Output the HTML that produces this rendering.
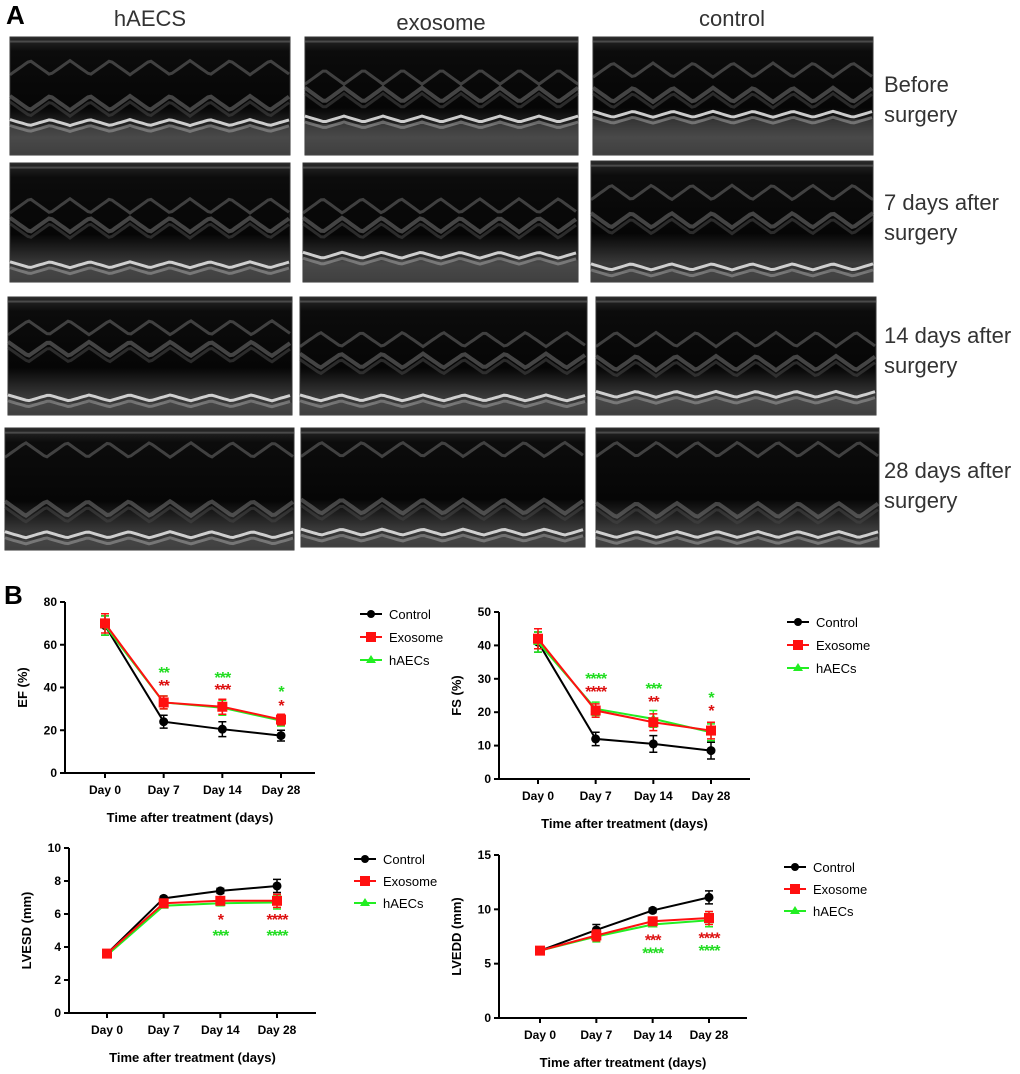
<!DOCTYPE html>
<html><head><meta charset="utf-8"><style>
html,body{margin:0;padding:0;background:#fff}
svg{display:block}
text{font-family:"Liberation Sans",Arial,sans-serif}
</style></head><body>
<svg id="fig" width="1020" height="1074" viewBox="0 0 1020 1074" xmlns="http://www.w3.org/2000/svg">
<defs>
<linearGradient id="eg" x1="0" y1="0" x2="0" y2="1">
<stop offset="0" stop-color="#2a2a2a"/><stop offset="0.12" stop-color="#0c0c0c"/><stop offset="0.6" stop-color="#060606"/><stop offset="0.85" stop-color="#3a3a3a"/><stop offset="1" stop-color="#2a2a2a"/>
</linearGradient>
</defs>
<text x="6" y="24" font-size="26" font-weight="bold">A</text>
<text x="150" y="26" font-size="22" fill="#333" text-anchor="middle">hAECS</text>
<text x="441" y="30" font-size="22" fill="#333" text-anchor="middle">exosome</text>
<text x="732" y="26" font-size="22" fill="#333" text-anchor="middle">control</text>
<g font-size="22" fill="#333">
<text x="884" y="92">Before</text><text x="884" y="122">surgery</text>
<text x="884" y="210">7 days after</text><text x="884" y="240">surgery</text>
<text x="884" y="343">14 days after</text><text x="884" y="373">surgery</text>
<text x="884" y="478">28 days after</text><text x="884" y="508">surgery</text>
</g>
<g id="echos"></g>
<text x="4" y="604" font-size="26" font-weight="bold">B</text>
<g id="charts"></g>
</svg>
<script>
// ===== chart data =====
const days = ["Day 0","Day 7","Day 14","Day 28"];
const efControl = [69, 24, 20.5, 17.5];
const efExosome = [70, 33, 31, 25];
const efHaecs = [69, 33, 30.5, 24.5];
const efErr = [4.5, 3, 3.5, 2.5];
const efTicks = [0, 20, 40, 60, 80];
const fsControl = [41, 12, 10.5, 8.5];
const fsExosome = [42, 20.5, 17, 14.5];
const fsHaecs = [41, 21, 18, 14];
const fsErr = [3, 2, 2.5, 2.5];
const fsTicks = [0, 10, 20, 30, 40, 50];
const lvesdControl = [3.6, 6.95, 7.4, 7.7];
const lvesdExosome = [3.6, 6.65, 6.8, 6.8];
const lvesdHaecs = [3.5, 6.5, 6.65, 6.7];
const lvesdErr = [0.15, 0.1, 0.15, 0.4];
const lvesdTicks = [0, 2, 4, 6, 8, 10];
const lveddControl = [6.2, 8.1, 9.9, 11.1];
const lveddExosome = [6.2, 7.6, 8.9, 9.2];
const lveddHaecs = [6.2, 7.5, 8.6, 9.0];
const lveddErr = [0.2, 0.5, 0.2, 0.6];
const lveddTicks = [0, 5, 10, 15];
// significance stars: [dayIndex, value, text]
const efStarsRed = [[1, 41.6, "**"], [2, 39.8, "***"], [3, 32.3, "*"]];
const efStarsGreen = [[1, 47.7, "**"], [2, 45.4, "***"], [3, 38.8, "*"]];
const fsStarsRed = [[1, 26.6, "****"], [2, 23.6, "**"], [3, 21, "*"]];
const fsStarsGreen = [[1, 30.5, "****"], [2, 27.5, "***"], [3, 24.8, "*"]];
const lvesdStarsRed = [[2, 5.75, "*"], [3, 5.75, "****"]];
const lvesdStarsGreen = [[2, 4.8, "***"], [3, 4.8, "****"]];
const lveddStarsRed = [[2, 7.3, "***"], [3, 7.5, "****"]];
const lveddStarsGreen = [[2, 6.1, "****"], [3, 6.35, "****"]];

const NS = "http://www.w3.org/2000/svg";
function mk(tag, attrs, parent){const e=document.createElementNS(NS,tag);for(const k in attrs)e.setAttribute(k,attrs[k]);parent.appendChild(e);return e;}

// ===== echo panels (decorative imagery) =====
const panels = [
 [10,37,280,118,0.2,0.62,0.75],[305,37,273,118,0.28,0.55,0.72],[593,37,280,118,0.22,0.55,0.68],
 [10,163,280,119,0.3,0.58,0.88],[303,163,275,119,0.3,0.58,0.8],[591,161,282,121,0.2,0.55,0.9],
 [8,297,284,118,0.2,0.5,0.88],[300,297,287,118,0.3,0.6,0.88],[596,297,280,118,0.3,0.62,0.85],
 [5,428,289,122,0.12,0.72,0.9],[301,428,284,119,0.12,0.72,0.9],[596,428,283,119,0.12,0.75,0.92]];
const eg=document.getElementById('echos');
panels.forEach((p,i)=>{
 const g=mk('g',{},eg);
 
 
 const [x,y,w,h,a,b,c]=p;
 mk('rect',{x:x,y:y,width:w,height:h,fill:'url(#eg)',stroke:'#333','stroke-width':1},g);
 mk('rect',{x:x,y:y+h*0.03,width:w,height:2,fill:'#666',opacity:0.6},g);
 const wave=(fy,amp,col,sw,op)=>{let d='';const per=w/7;for(let t=0;t<=w;t+=3){const yy=y+h*fy+amp*Math.abs(((t/per)%1)-0.5)*2;d+=(t?'L':'M')+(x+t)+' '+yy.toFixed(1);}mk('path',{d:d,fill:'none',stroke:col,'stroke-width':sw,opacity:op},g);};
 wave(a,h*0.12,'#666',3,0.6);
 wave(b,-h*0.12,'#777',4,0.55);
 wave(b+0.05,-h*0.12,'#444',3,0.6);
 mk('rect',{x:x,y:y+h*c+2,width:w,height:h*(1-c)-2,fill:'#666',opacity:0.35},g);
 wave(c,-h*0.05,'#e0e0e0',3,0.9);
 wave(c+0.05,-h*0.05,'#999',3,0.6);
});

// ===== charts =====
const charts=document.getElementById('charts');
function chart(cfg){
 const g=mk('g',{},charts);
 
 
 const ymax=cfg.ticks[cfg.ticks.length-1];
 const Y=v=>cfg.y0-(v/ymax)*(cfg.y0-cfg.y1);
 const X=i=>cfg.xs[0]+i*(cfg.xs[1]-cfg.xs[0])/3;
 const ax=mk('g',{},g);
 
 
 mk('line',{x1:cfg.ax,y1:cfg.y1,x2:cfg.ax,y2:cfg.y0,stroke:'#000','stroke-width':2},ax);
 cfg.ticks.forEach(t=>{mk('line',{x1:cfg.ax-5,y1:Y(t),x2:cfg.ax,y2:Y(t),stroke:'#000','stroke-width':2},ax);
  const tx=mk('text',{x:cfg.ax-8,y:Y(t)+4,'font-size':12,'font-weight':'bold','text-anchor':'end'},ax);tx.textContent=t;});
 const xa=mk('g',{},g);
 
 
 mk('line',{x1:cfg.ax,y1:cfg.y0,x2:cfg.xend,y2:cfg.y0,stroke:'#000','stroke-width':2},xa);
 days.forEach((d,i)=>{mk('line',{x1:X(i),y1:cfg.y0,x2:X(i),y2:cfg.y0+5,stroke:'#000','stroke-width':2},xa);
  const tx=mk('text',{x:X(i),y:cfg.y0+21,'font-size':12,'font-weight':'bold','text-anchor':'middle'},xa);tx.textContent=d;});
 const xt=mk('text',{x:(cfg.ax+cfg.xend)/2,y:cfg.y0+49,'font-size':13,'font-weight':'bold','text-anchor':'middle'},g);
 xt.textContent='Time after treatment (days)';
 
 
 const yt=mk('text',{x:0,y:0,'font-size':13,'font-weight':'bold','text-anchor':'middle',transform:`translate(${cfg.ax-38},${(cfg.y0+cfg.y1)/2}) rotate(-90)`},g);
 yt.textContent=cfg.ylabel;
 
 
 const series=[[cfg.c,'#000','circle','control'],[cfg.h,'#22ee22','tri','haecs'],[cfg.e,'#ff1010','sq','exosome']];
 series.forEach(([vals,col,sh,nm])=>{
  const sg=mk('g',{},g);
  
  
  mk('polyline',{points:vals.map((v,i)=>X(i)+','+Y(v)).join(' '),fill:'none',stroke:col,'stroke-width':2},sg);
  vals.forEach((v,i)=>{
   const er=cfg.err[i];
   mk('path',{d:`M${X(i)} ${Y(v+er)}V${Y(v-er)}M${X(i)-4} ${Y(v+er)}h8M${X(i)-4} ${Y(v-er)}h8`,stroke:col,'stroke-width':1.5,fill:'none'},sg);
   if(sh==='circle')mk('circle',{cx:X(i),cy:Y(v),r:4.5,fill:col},sg);
   else if(sh==='sq')mk('rect',{x:X(i)-5,y:Y(v)-5,width:10,height:10,fill:col},sg);
   else mk('path',{d:`M${X(i)} ${Y(v)-5}l5 8h-10z`,fill:col},sg);
  });
 });
 [[cfg.sr,'#dd1111'],[cfg.sg,'#22dd22']].forEach(([arr,col])=>arr.forEach(s=>{
  const t=mk('text',{x:X(s[0]),y:Y(s[1])+7,'font-size':16,'font-weight':'bold',fill:col,'text-anchor':'middle','letter-spacing':'-1'},g);
  t.textContent=s[2];
  
  
 }));
 const lg=mk('g',{},g);
 
 
 [['Control','#000','circle'],['Exosome','#ff1010','sq'],['hAECs','#22ee22','tri']].forEach((l,i)=>{
  const yy=cfg.ly+i*cfg.lgap, x0=cfg.lx;
  const eg2=mk('g',{},lg);
  
  
  mk('line',{x1:x0,y1:yy,x2:x0+22,y2:yy,stroke:l[1],'stroke-width':2},eg2);
  if(l[2]==='circle')mk('circle',{cx:x0+11,cy:yy,r:4,fill:l[1]},eg2);
  else if(l[2]==='sq')mk('rect',{x:x0+6,y:yy-5,width:10,height:10,fill:l[1]},eg2);
  else mk('path',{d:`M${x0+11} ${yy-5}l5 8h-10z`,fill:l[1]},eg2);
  const t=mk('text',{x:x0+29,y:yy+5,'font-size':13},eg2);t.textContent=l[0];
 });
}
chart({name:'ef-chart',ax:65,y0:773,y1:602,xs:[105,281],xend:315,ticks:efTicks,ylabel:'EF (%)',c:efControl,e:efExosome,h:efHaecs,err:efErr,sr:efStarsRed,sg:efStarsGreen,lx:360,ly:614,lgap:23});
chart({name:'fs-chart',ax:499,y0:779,y1:612,xs:[538,711],xend:750,ticks:fsTicks,ylabel:'FS (%)',c:fsControl,e:fsExosome,h:fsHaecs,err:fsErr,sr:fsStarsRed,sg:fsStarsGreen,lx:787,ly:622,lgap:23});
chart({name:'lvesd-chart',ax:69,y0:1013,y1:848,xs:[107,277],xend:316,ticks:lvesdTicks,ylabel:'LVESD (mm)',c:lvesdControl,e:lvesdExosome,h:lvesdHaecs,err:lvesdErr,sr:lvesdStarsRed,sg:lvesdStarsGreen,lx:354,ly:859,lgap:22});
chart({name:'lvedd-chart',ax:499,y0:1018,y1:855,xs:[540,709],xend:747,ticks:lveddTicks,ylabel:'LVEDD (mm)',c:lveddControl,e:lveddExosome,h:lveddHaecs,err:lveddErr,sr:lveddStarsRed,sg:lveddStarsGreen,lx:784,ly:867,lgap:22});
</script>
</body></html>
